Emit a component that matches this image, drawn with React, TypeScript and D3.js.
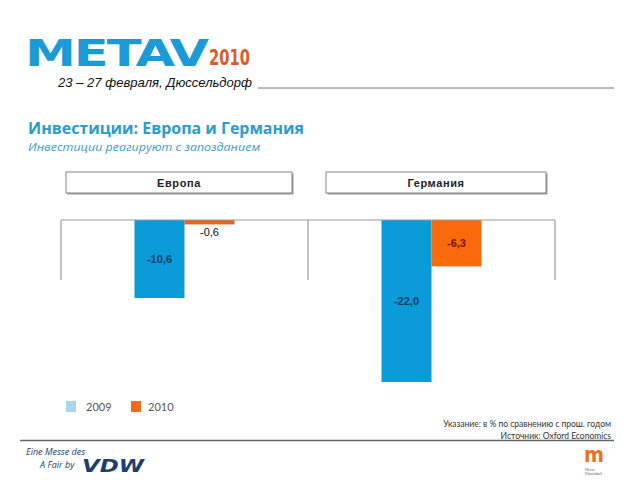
import React from "react";
import * as d3 from "d3";

// regions and series
const regions = ["Европа", "Германия"];
const years = ["2009", "2010"];
const values2009 = [-10.6, -22.0];
const values2010 = [-0.6, -6.3];
const labelColors2009 = ["#123a66", "#123a66"];
const labelColors2010 = ["#111111", "#7a1400"];

const noteLines = ["Указание: в % по сравнению с прош. годом", "Источник: Oxford Economics"];

const W = 640, H = 480;
const chart = { left: 61, right: 555, zero: 220, tickBottom: 280 };

export default function App() {
  const x = d3.scaleBand<string>().domain(regions).range([chart.left, chart.right]);
  const inner = d3.scaleBand<string>().domain(years).range([0, x.bandwidth()]).paddingInner(0).paddingOuter(1.47);
  const y = d3.scaleLinear().domain([0, -22]).range([chart.zero, 382]);

  const series = [
    { year: "2009", values: values2009, fill: "#0b9bd9", labels: labelColors2009 },
    { year: "2010", values: values2010, fill: "#f86a0c", labels: labelColors2010 },
  ];

  const fmt = (v: number) => v.toFixed(1).replace(".", ",");

  return (
    <svg width={W} height={H} style={{ position: "absolute", left: 0, top: 0 }}>
      <rect width={W} height={H} fill="#fff" />

      {/* header */}
      <text x={25} y={66} fontFamily="'DejaVu Sans'" fontWeight="bold" fontSize={37} fill="#1a9ad6" letterSpacing={-1.5}
        textLength={182} lengthAdjust="spacingAndGlyphs">METAV</text>
      <text x={209} y={65} fontFamily="'DejaVu Sans'" fontWeight="bold" fontSize={21} fill="#e0582a"
        textLength={41} lengthAdjust="spacingAndGlyphs">2010</text>
      <text x={58} y={87} fontFamily="'Liberation Sans'" fontStyle="italic" fontSize={13} fill="#111"
        textLength={194} lengthAdjust="spacingAndGlyphs">23 – 27 февраля, Дюссельдорф</text>
      <line x1={258} x2={614} y1={88} y2={88} stroke="#777" strokeWidth={1} />

      <text x={28} y={134} fontFamily="'Open Sans'" fontWeight="bold" fontSize={15.5} fill="#2a9bd1"
        textLength={276} lengthAdjust="spacingAndGlyphs">Инвестиции: Европа и Германия</text>
      <text x={28} y={151} fontFamily="'Open Sans'" fontStyle="italic" fontSize={11.5} fill="#3a9bc9"
        textLength={232} lengthAdjust="spacingAndGlyphs">Инвестиции реагируют с запозданием</text>

      {/* panel headers */}
      {regions.map((r, i) => {
        const bx = i === 0 ? 66 : 326;
        const bw = i === 0 ? 226 : 220;
        return (
          <g key={r}>
            <rect x={bx + 1.5} y={173.5} width={bw} height={21} fill="#999" />
            <rect x={bx} y={172} width={bw} height={21} fill="#fff" stroke="#888" strokeWidth={1} />
            <text x={bx + bw / 2} y={187} textAnchor="middle" fontFamily="'Liberation Sans'" fontWeight="bold"
              fontSize={11} fill="#222" letterSpacing={0.6}>{r}</text>
          </g>
        );
      })}

      {/* bars */}
      {series.map((s) => (
        <g key={s.year}>
          {regions.map((r, i) => {
            const v = s.values[i];
            const bx = (x(r) as number) + (inner(s.year) as number);
            const bw = inner.bandwidth();
            const y0 = y(0), y1 = y(v);
            const inside = y1 - y0 > 20;
            return (
              <g key={r}>
                <rect x={bx} y={y0} width={bw} height={y1 - y0} fill={i === 0 && s.year === "2010" ? "#e2661e" : s.fill} />
                <text x={bx + bw / 2} y={inside ? (y0 + y1) / 2 + 4 : y1 + 12} textAnchor="middle"
                  fontFamily="'Liberation Sans'" fontWeight={inside ? "bold" : "normal"} fontSize={11}
                  fill={s.labels[i]}>{fmt(v)}</text>
              </g>
            );
          })}
        </g>
      ))}

      {/* category axis */}
      <line x1={chart.left} x2={chart.right} y1={chart.zero} y2={chart.zero} stroke="#999" strokeWidth={1} />
      {[...regions.map((r) => x(r) as number), chart.right].map((tx, i) => (
        <line key={i} x1={tx} x2={tx} y1={chart.zero} y2={chart.tickBottom} stroke="#888" strokeWidth={1} />
      ))}

      {/* legend */}
      <rect x={66} y={401} width={10} height={11} fill="#a9d5ef" />
      <text x={86} y={411} fontFamily="'Lato'" fontSize={11} fill="#555">{years[0]}</text>
      <rect x={131} y={401} width={10} height={11} fill="#f26b1d" />
      <text x={148} y={411} fontFamily="'Lato'" fontSize={11} fill="#555">{years[1]}</text>

      {noteLines.map((t, i) => (
        <text key={i} x={611} y={427 + i * 12} textAnchor="end" fontFamily="'Lato'" fontSize={8.5} fill="#333">{t}</text>
      ))}

      {/* footer */}
      <line x1={20} x2={614} y1={440.5} y2={440.5} stroke="#666" strokeWidth={1.5} />
      <text x={26} y={455} fontFamily="'Open Sans'" fontStyle="italic" fontSize={9} fill="#1b3f6e">Eine Messe des</text>
      <text x={40} y={468} fontFamily="'Open Sans'" fontStyle="italic" fontSize={9} fill="#1b3f6e">A Fair by</text>
      <text x={82} y={472} fontFamily="'DejaVu Sans'" fontWeight="bold" fontStyle="italic" fontSize={18} fill="#1b3f6e"
        textLength={62} lengthAdjust="spacingAndGlyphs">VDW</text>

      <text x={584} y={462} fontFamily="'DejaVu Sans'" fontWeight="bold" fontSize={22} fill="#e8731e"
        textLength={20} lengthAdjust="spacingAndGlyphs">m</text>
      <text x={585} y={471} fontFamily="'Lato'" fontSize={3.5} fill="#666">Messe</text>
      <text x={585} y={475} fontFamily="'Lato'" fontSize={3.5} fill="#666">Düsseldorf</text>
    </svg>
  );
}
